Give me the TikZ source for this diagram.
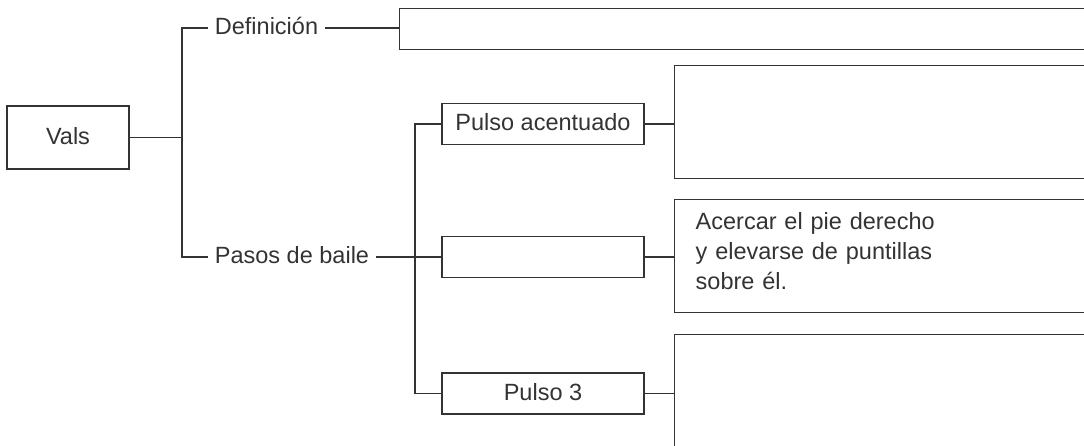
\documentclass[tikz,border=0pt]{standalone}
\usepackage{fontspec}
\setmainfont{Liberation Sans}

\tikzset{
  marco/.style={draw, line width=1.4pt, inner sep=0pt},
  caja/.style={marco, minimum height=41pt, text height=17pt, text depth=4pt},
  rotulo/.style={inner xsep=7pt, inner ysep=0pt, text height=17pt, text depth=4pt},
  linea/.style={line width=1.4pt}
}

\begin{document}
\begin{tikzpicture}[x=1pt, y=-1pt, color=black!80, font=\fontsize{23.5}{30}\selectfont]
				\useasboundingbox (0,0) rectangle (1084,445);
				\node[caja, minimum width=122pt, minimum height=63pt] (vals) at (68,137.5) {Vals};
				\node[rotulo] (def) at (266.5,28) {Definición};
				\node[rotulo] (pasos) at (292,257) {Pasos de baile};
				\node[caja, minimum width=202pt] (pulsoA) at (543,124) {Pulso acentuado};
				\node[caja, minimum width=202pt] (pulsoB) at (543,257) {};
				\node[caja, minimum width=202pt] (pulsoC) at (543,393.5) {Pulso 3};
				\node[caja, anchor=north west, minimum width=720pt] (defcaja) at (399,8) {};
				\node[caja, anchor=north west, minimum width=440pt, minimum height=113pt] (resA) at (674,65) {};
				\node[caja, anchor=north west, minimum width=440pt, minimum height=113pt,
				  align=left, text width=398pt, inner xsep=21pt, text depth=70pt] (resB) at (674,199)
				  {Acercar el pie derecho\\ y elevarse de puntillas\\ sobre él.};
				\node[caja, anchor=north west, minimum width=440pt, minimum height=140pt] (resC) at (674,334) {};
				\coordinate (tronco) at (182,137.5);
				\coordinate (rama) at (415,257);
				\path[linea]
				(vals) edge (tronco)
				(def.east) edge (def.east -| defcaja.west)
				(pasos) edge (pulsoB)
				(pulsoA) edge (pulsoA -| resA.west)
				(pulsoB) edge (pulsoB -| resB.west)
				(pulsoC) edge (pulsoC -| resC.west);
				\draw[linea] (def.west) -| (tronco) |- (pasos.west);
				\draw[linea] (pulsoA.west) -| (rama) |- (pulsoC.west);
			\end{tikzpicture}
\end{document}
